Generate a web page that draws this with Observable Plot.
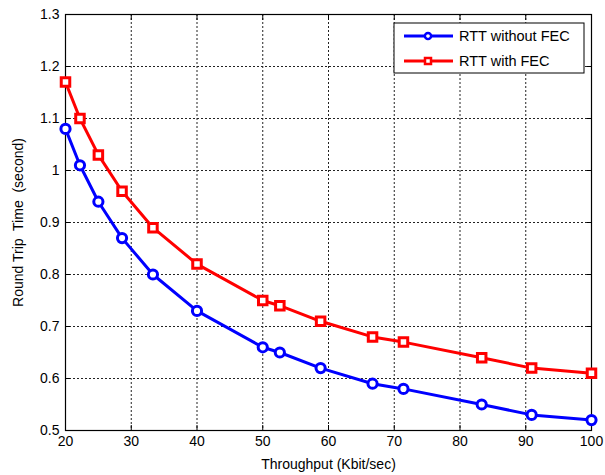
<!DOCTYPE html>
<html>
<head>
<meta charset="utf-8">
<script src="https://cdn.jsdelivr.net/npm/d3@7"></script>
<script src="https://cdn.jsdelivr.net/npm/@observablehq/plot@0.6"></script>
<style>
  html, body { margin: 0; padding: 0; background: #fff; }
  svg { font-family: "Liberation Sans", Arial, sans-serif; white-space: pre; }
</style>
</head>
<body>
<div id="chart"></div>
<script>
const throughput = [20, 22.2, 25, 28.6, 33.3, 40, 50, 52.6, 58.8, 66.7, 71.4, 83.3, 90.9, 100];
const rttWithoutFec = [1.08, 1.01, 0.94, 0.87, 0.80, 0.73, 0.66, 0.65, 0.62, 0.59, 0.58, 0.55, 0.53, 0.52];
const rttWithFec = [1.17, 1.10, 1.03, 0.96, 0.89, 0.82, 0.75, 0.74, 0.71, 0.68, 0.67, 0.64, 0.62, 0.61];
const seriesNames = ["RTT without FEC", "RTT with FEC"];
const seriesColors = ["#0000ff", "#ff0000"];
const seriesSymbols = ["circle", "square"];
const xTicks = [20, 30, 40, 50, 60, 70, 80, 90, 100];
const yTicks = [0.5, 0.6, 0.7, 0.8, 0.9, 1.0, 1.1, 1.2, 1.3];
const xLabel = "Throughput (Kbit/sec)";
const yLabel = "Round Trip  Time  (second)";

const blue = throughput.map((x, i) => ({x, y: rttWithoutFec[i]}));
const red = throughput.map((x, i) => ({x, y: rttWithFec[i]}));

const innerX = xTicks.slice(1, -1);
const innerY = yTicks.slice(1, -1);

const plot = Plot.plot({
  width: 605,
  height: 475,
  marginLeft: 65,
  marginRight: 14,
  marginTop: 14,
  marginBottom: 45,
  style: {fontFamily: "Liberation Sans, Arial, sans-serif", fontSize: "14px", color: "black"},
  x: {domain: [20, 100]},
  y: {domain: [0.5, 1.3]},
  marks: [
    Plot.gridX(innerX, {stroke: "#222", strokeOpacity: 1, strokeWidth: 1, strokeDasharray: "2,2"}),
    Plot.gridY(innerY, {stroke: "#222", strokeOpacity: 1, strokeWidth: 1, strokeDasharray: "2,2"}),
    Plot.axisX(xTicks, {anchor: "bottom", tickSize: -5, tickPadding: 11, fontSize: 14, label: xLabel, labelAnchor: "center", labelArrow: "none", labelOffset: 38}),
    Plot.axisX(xTicks, {anchor: "top", tickSize: -5, tickFormat: () => "", label: null}),
    Plot.axisY(yTicks, {anchor: "left", tickSize: -5, tickPadding: 11, fontSize: 14, tickFormat: d => String(+d.toFixed(1)), label: yLabel, labelAnchor: "center", labelArrow: "none", labelOffset: 52}),
    Plot.axisY(yTicks, {anchor: "right", tickSize: -5, tickFormat: () => "", label: null}),
    Plot.frame({stroke: "black", strokeWidth: 1.2}),
    Plot.line(blue, {x: "x", y: "y", stroke: seriesColors[0], strokeWidth: 3}),
    Plot.line(red, {x: "x", y: "y", stroke: seriesColors[1], strokeWidth: 3}),
    Plot.dot(blue, {x: "x", y: "y", symbol: seriesSymbols[0], r: 4.6, stroke: seriesColors[0], strokeWidth: 3, fill: "white"}),
    Plot.dot(red, {x: "x", y: "y", symbol: seriesSymbols[1], r: 4.8, stroke: seriesColors[1], strokeWidth: 3, fill: "white"})
  ]
});

// Legend (MATLAB-style box in the upper right of the axes)
const svg = d3.select(plot);
const xr = plot.scale("x").range;
const yr = plot.scale("y").range;
const boxW = 190, boxH = 50;
const bx = Math.max(...xr) - 7 - boxW;
const by = Math.min(...yr) + 9;
const lg = svg.append("g").attr("font-family", "Liberation Sans, Arial, sans-serif").attr("font-size", 14.5).attr("text-anchor", "start");
lg.append("rect").attr("x", bx).attr("y", by).attr("width", boxW).attr("height", boxH)
  .attr("fill", "white").attr("stroke", "black").attr("stroke-width", 1);
seriesNames.forEach((name, i) => {
  const cy = by + 13 + i * 25;
  lg.append("line").attr("x1", bx + 10).attr("x2", bx + 59).attr("y1", cy).attr("y2", cy)
    .attr("stroke", seriesColors[i]).attr("stroke-width", 3);
  const sym = d3.symbol(seriesSymbols[i] === "circle" ? d3.symbolCircle : d3.symbolSquare, seriesSymbols[i] === "circle" ? 30 : 36);
  lg.append("path").attr("d", sym()).attr("transform", `translate(${bx + 34},${cy})`)
    .attr("fill", "white").attr("stroke", seriesColors[i]).attr("stroke-width", 2.5);
  lg.append("text").attr("x", bx + 65).attr("y", cy).attr("dy", "0.35em").attr("fill", "black").text(name);
});

document.getElementById("chart").appendChild(plot);
</script>
</body>
</html>
